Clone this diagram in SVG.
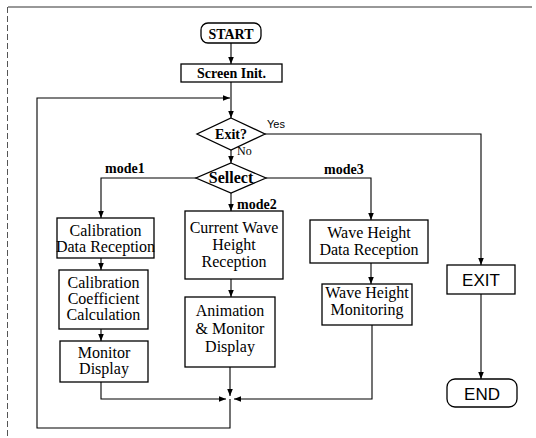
<svg xmlns="http://www.w3.org/2000/svg" width="536" height="438" viewBox="0 0 536 438">
<defs>
<marker id="ah" viewBox="0 0 10 10" refX="10" refY="5" markerWidth="7" markerHeight="7" markerUnits="userSpaceOnUse" orient="auto">
<path d="M0,1 L10,5 L0,9 z" fill="#000"/>
</marker>
<style>
.bx{fill:#fff;stroke:#000;stroke-width:1.3}
.ln{fill:none;stroke:#000;stroke-width:1.1}
.ar{fill:none;stroke:#000;stroke-width:1.1;marker-end:url(#ah)}
.t{font-family:"Liberation Serif","Times New Roman",serif;font-size:16px;fill:#000;text-anchor:middle}
.tb{font-family:"Liberation Serif","Times New Roman",serif;font-size:14px;font-weight:bold;fill:#000;text-anchor:middle}
.ts{font-family:"Liberation Sans",Arial,sans-serif;font-size:17px;fill:#000;text-anchor:middle}
.lb{font-family:"Liberation Serif","Times New Roman",serif;font-size:14px;font-weight:bold;fill:#000}
</style>
</defs>
<rect width="536" height="438" fill="#fff"/>
<g id="frame">
<line x1="8" y1="7" x2="532" y2="7" stroke="#333" stroke-width="1.2"/>
<line x1="7.5" y1="7" x2="7.5" y2="438" stroke="#555" stroke-width="1" stroke-dasharray="6,3"/>
</g>
<g id="connectors">
<line class="ar" x1="231" y1="43" x2="231" y2="64"/>
<line class="ar" x1="231" y1="82" x2="231" y2="118"/>
<polyline class="ar" points="230,399 230,428 37,428 37,98 230,98"/>
<line class="ar" x1="231" y1="150" x2="231" y2="163"/>
<polyline class="ar" points="265,134 481,134 481,265"/>
<line class="ar" x1="481" y1="294" x2="481" y2="379"/>
<polyline class="ar" points="196,178 101,178 101,218"/>
<line class="ar" x1="101" y1="258" x2="101" y2="270"/>
<line class="ar" x1="101" y1="329" x2="101" y2="341"/>
<polyline class="ar" points="101,382 101,399 226,399"/>
<line class="ar" x1="231" y1="193" x2="231" y2="211"/>
<line class="ar" x1="231" y1="279" x2="231" y2="297"/>
<line class="ar" x1="230" y1="367" x2="230" y2="396"/>
<polyline class="ar" points="266,178 371,178 371,220"/>
<line class="ar" x1="371" y1="263" x2="371" y2="284"/>
<polyline class="ar" points="372,325 372,399 234,399"/>
</g>
<g id="labels">
<text x="267" y="128" font-family="Liberation Sans,Arial,sans-serif" font-size="11">Yes</text>
<text x="237" y="155" font-family="Liberation Serif,Times New Roman,serif" font-size="12">No</text>
<text class="lb" x="105" y="173">mode1</text>
<text class="lb" x="237" y="209">mode2</text>
<text class="lb" x="324" y="174">mode3</text>
</g>
<g id="start">
<rect class="bx" x="201" y="23" width="60" height="20" rx="7"/>
<text class="tb" x="231" y="39">START</text>
</g>
<g id="screen-init">
<rect class="bx" x="181" y="64" width="101" height="18"/>
<text class="tb" x="231.5" y="78">Screen Init.</text>
</g>
<g id="exit-q">
<polygon class="bx" points="231,118 265,134 231,150 197,134"/>
<text class="tb" x="231" y="139">Exit?</text>
</g>
<g id="sellect">
<polygon class="bx" points="231,163 266,178 231,193 196,178"/>
<text class="tb" x="231" y="183" style="font-size:16px">Sellect</text>
</g>
<g id="cal-data">
<rect class="bx" x="57" y="218" width="97" height="40"/>
<text class="t" x="105.5" y="236">Calibration</text>
<text class="t" x="105.5" y="252">Data Reception</text>
</g>
<g id="cal-coef">
<rect class="bx" x="59" y="270" width="89" height="59"/>
<text class="t" x="103.5" y="288">Calibration</text>
<text class="t" x="103.5" y="304">Coefficient</text>
<text class="t" x="103.5" y="320">Calculation</text>
</g>
<g id="monitor-display">
<rect class="bx" x="60" y="341" width="88" height="41"/>
<text class="t" x="104" y="358">Monitor</text>
<text class="t" x="104" y="374">Display</text>
</g>
<g id="current-wave">
<rect class="bx" x="185" y="211" width="98" height="68"/>
<text class="t" x="234" y="233">Current Wave</text>
<text class="t" x="234" y="250">Height</text>
<text class="t" x="234" y="267">Reception</text>
</g>
<g id="animation">
<rect class="bx" x="185" y="297" width="90" height="70"/>
<text class="t" x="230" y="316">Animation</text>
<text class="t" x="230" y="334">&amp; Monitor</text>
<text class="t" x="230" y="352">Display</text>
</g>
<g id="wh-data">
<rect class="bx" x="310" y="220" width="118" height="43"/>
<text class="t" x="369" y="238">Wave Height</text>
<text class="t" x="369" y="255">Data Reception</text>
</g>
<g id="wh-monitor">
<rect class="bx" x="322" y="284" width="90" height="41"/>
<text class="t" x="367" y="298">Wave Height</text>
<text class="t" x="367" y="315">Monitoring</text>
</g>
<g id="exit">
<rect class="bx" x="447" y="265" width="68" height="29"/>
<text class="ts" x="481" y="286">EXIT</text>
</g>
<g id="end">
<rect class="bx" x="447" y="379" width="70" height="28" rx="8"/>
<text class="ts" x="482" y="400">END</text>
</g>
</svg>
